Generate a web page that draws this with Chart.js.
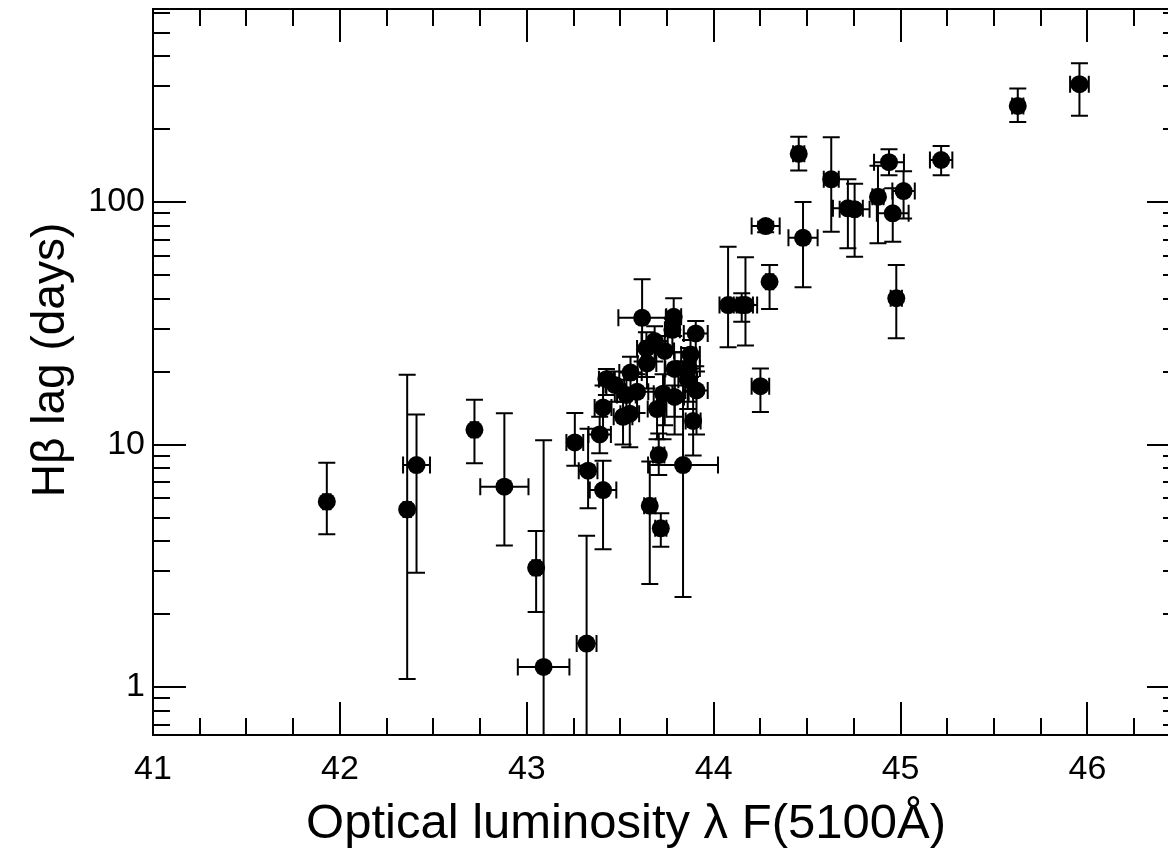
<!DOCTYPE html>
<html><head><meta charset="utf-8">
<script src="https://cdn.jsdelivr.net/npm/chart.js@4.4.0/dist/chart.umd.min.js"></script>
<style>html,body{margin:0;padding:0;overflow:hidden;background:#fff}canvas{display:block}</style>
</head><body>
<canvas id="c" width="1189" height="858"></canvas>
<script>
// Optical luminosity log(lambda F 5100A)
const lum = [41.93,42.36,42.41,42.72,42.88,43.05,43.09,43.32,43.257,43.328,43.39,43.408,43.408,43.706,43.658,43.717,43.836,43.89,
  43.617,43.786,43.779,43.904,43.684,43.64,43.738,43.876,43.643,43.555,43.791,43.866,43.861,43.426,43.471,43.59,43.533,43.908,43.729,43.791,43.697,43.551,43.515,
  44.077,44.15,44.17,44.299,44.278,44.478,44.25,44.455,44.629,44.718,44.754,44.879,44.938,44.958,44.977,45.016,45.217,45.627,45.957];
// H-beta lag (days)
const lag = [5.81,5.40,8.23,11.5,6.70,3.10,1.21,1.51,10.2,7.80,11.0,6.49,14.2,9.05,5.59,4.51,8.23,12.5,
  33.3,33.6,29.7,28.7,26.7,24.9,24.3,23.5,21.6,19.8,20.5,20.6,18.5,18.6,17.6,16.5,16.0,16.7,16.2,15.7,14.0,13.4,13.0,
  37.6,37.6,37.6,46.9,79.6,71.2,17.4,158,124,94.2,93.3,105,146,89.8,40.1,111,149,249,306];
// upper end of lag error bar
const lagHi = [8.41,19.4,13.3,15.3,13.45,4.40,10.4,4.2,13.5,11.6,13.0,8.58,17.5,11.1,8.5,5.20,22,16.5,
  48.0,40.1,33,32.3,30.7,29,28,27,25,23,24,25,22,20.5,20.0,19.5,18.5,20,19.5,17.5,16.5,15.5,15,
  65.4,42.0,59.2,55.0,83,100,20.6,186,185,124,119,141,165,114,55,134,170,294,373];
// lower end of lag error bar
const lagLo = [4.27,1.08,2.96,8.37,3.83,2.04,0.1,0.1,8.18,5.46,9.2,3.70,11.5,7.48,2.66,3.79,2.35,9.0,
  22,28,24,21,22,19,12,19,17,16,13,15,14,16,15,13.5,13.8,11,10.5,11,10.5,9.74,10,
  25.2,32.1,25.6,36.2,75,44.5,13.6,135,75.4,64.4,59.5,67.6,129,68.6,27.4,85.6,129,214,227];
// luminosity error (symmetric)
const lumErr = [0.02,0.02,0.072,0.02,0.129,0.02,0.138,0.053,0.045,0.05,0.06,0.071,0.045,0.03,0.03,0.03,0.187,0.04,
  0.127,0.04,0.04,0.064,0.07,0.05,0.05,0.05,0.05,0.06,0.05,0.06,0.05,0.04,0.05,0.06,0.05,0.06,0.05,0.05,0.05,0.05,0.05,
  0.046,0.06,0.0625,0.02,0.075,0.078,0.047,0.03,0.04,0.08,0.08,0.03,0.08,0.085,0.03,0.06,0.06,0.03,0.05];

const xTickLabels = [41,42,43,44,45,46];
const yTickLabels = [1,10,100];
const xTitle = 'Optical luminosity \u03BB F(5100\u00C5)';
const yTitle = 'H\u03B2 lag (days)';

const FONT = '"Liberation Sans", Arial, sans-serif';

const errorBars = {
  id: 'errorBars',
  beforeDatasetsDraw(chart) {
    const {ctx, chartArea: a, scales: {x, y}} = chart;
    ctx.save();
    ctx.beginPath(); ctx.rect(a.left, a.top, a.right - a.left, a.bottom - a.top); ctx.clip();
    ctx.strokeStyle = '#000'; ctx.lineWidth = 2;
    const cap = 8.5;
    for (let i = 0; i < lum.length; i++) {
      const px = x.getPixelForValue(lum[i]);
      const py = y.getPixelForValue(lag[i]);
      const yh = y.getPixelForValue(lagHi[i]);
      const yl = y.getPixelForValue(lagLo[i]);
      const xl = x.getPixelForValue(lum[i] - lumErr[i]);
      const xr = x.getPixelForValue(lum[i] + lumErr[i]);
      ctx.beginPath();
      ctx.moveTo(px, yh); ctx.lineTo(px, yl);
      ctx.moveTo(px - cap, yh); ctx.lineTo(px + cap, yh);
      ctx.moveTo(px - cap, yl); ctx.lineTo(px + cap, yl);
      ctx.moveTo(xl, py); ctx.lineTo(xr, py);
      ctx.moveTo(xl, py - cap); ctx.lineTo(xl, py + cap);
      ctx.moveTo(xr, py - cap); ctx.lineTo(xr, py + cap);
      ctx.stroke();
    }
    ctx.restore();
  }
};

const frame = {
  id: 'frame',
  afterDraw(chart) {
    const {ctx, chartArea: a, scales: {x, y}} = chart;
    ctx.save();
    ctx.strokeStyle = '#000'; ctx.lineWidth = 2;
    ctx.beginPath();
    ctx.rect(a.left, a.top, a.right - a.left, a.bottom - a.top);
    ctx.stroke();
    ctx.beginPath();
    for (let v = 41; v <= x.max + 1e-9; v += 0.25) {
      const px = Math.round(x.getPixelForValue(v));
      const major = Math.abs(v - Math.round(v)) < 1e-6;
      const L = major ? 33 : 17;
      ctx.moveTo(px, a.bottom); ctx.lineTo(px, a.bottom - L);
      ctx.moveTo(px, a.top); ctx.lineTo(px, a.top + L);
    }
    for (let d = -1; d <= 2; d++) {
      for (let m = 1; m <= 9; m++) {
        const v = m * Math.pow(10, d);
        if (v < y.min || v > y.max) continue;
        const py = Math.round(y.getPixelForValue(v));
        const L = m === 1 ? 33 : 17;
        ctx.moveTo(a.left, py); ctx.lineTo(a.left + L, py);
        ctx.moveTo(a.right, py); ctx.lineTo(a.right - L, py);
      }
    }
    ctx.stroke();
    ctx.fillStyle = '#000';
    ctx.textAlign = 'center'; ctx.textBaseline = 'alphabetic';
    ctx.font = '49px ' + FONT;
    ctx.fillText(xTitle, 626, 838);
    ctx.font = '46px ' + FONT;
    ctx.translate(64, 360);
    ctx.rotate(-Math.PI / 2);
    ctx.fillText(yTitle, 0, 0);
    ctx.restore();
  }
};

function zeroPad(s) { s.paddingTop = 0; s.paddingBottom = 0; s.paddingLeft = 0; s.paddingRight = 0; }

new Chart(document.getElementById('c'), {
  type: 'scatter',
  data: {
    datasets: [{
      data: lum.map((v, i) => ({x: v, y: lag[i]})),
      pointRadius: 9,
      pointHoverRadius: 9,
      backgroundColor: '#000',
      borderWidth: 0
    }]
  },
  options: {
    responsive: false,
    animation: false,
    events: [],
    layout: {padding: {top: 9, right: 2, left: 0, bottom: 0}},
    plugins: {legend: {display: false}, tooltip: {enabled: false}},
    scales: {
      x: {
        type: 'linear', bounds: 'data', min: 41, max: 46.495,
        afterFit(s) { s.height = 123; zeroPad(s); },
        afterBuildTicks(s) { s.ticks = xTickLabels.map(v => ({value: v})); },
        grid: {display: false, drawTicks: false},
        border: {display: false},
        ticks: {color: '#000', font: {family: FONT, size: 34}, padding: 14, maxRotation: 0, autoSkip: false,
          callback: v => String(v)}
      },
      y: {
        type: 'logarithmic', bounds: 'data', min: 0.634, max: 625,
        afterFit(s) { s.width = 153; zeroPad(s); },
        afterBuildTicks(s) { s.ticks = yTickLabels.map(v => ({value: v})); },
        grid: {display: false, drawTicks: false},
        border: {display: false},
        ticks: {color: '#000', font: {family: FONT, size: 34}, padding: 8, autoSkip: false,
          callback: v => String(v)}
      }
    }
  },
  plugins: [errorBars, frame]
});
</script>
</body></html>
